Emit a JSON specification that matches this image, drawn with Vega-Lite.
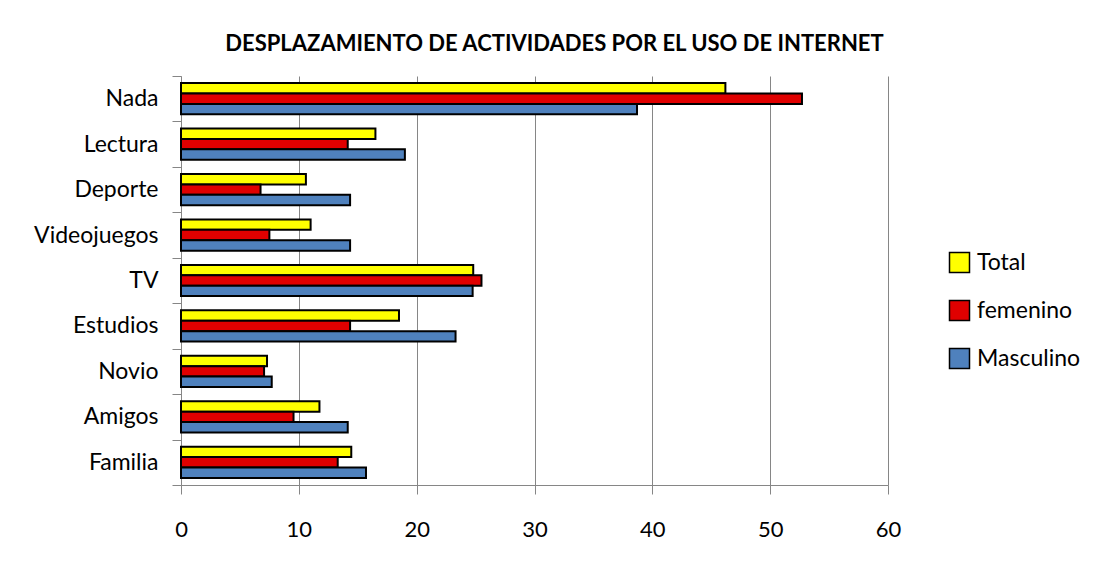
{
  "$schema": "https://vega.github.io/schema/vega-lite/v6.json",
  "autosize": "none",
  "width": 707,
  "height": 409,
  "padding": {"left": 181, "top": 76, "right": 205, "bottom": 82},
  "background": "white",
  "config": {
    "font": "Lato",
    "view": {"stroke": null}
  },
  "title": {
    "text": "DESPLAZAMIENTO DE ACTIVIDADES POR EL USO DE INTERNET",
    "font": "Lato",
    "fontSize": 22,
    "fontWeight": "bold",
    "color": "black",
    "anchor": "middle",
    "frame": "group",
    "dx": 20,
    "offset": 9
  },
  "data": {
    "values": [
      {"actividad": "Nada", "serie": "Total", "valor": 46.2},
      {"actividad": "Nada", "serie": "femenino", "valor": 52.7},
      {"actividad": "Nada", "serie": "Masculino", "valor": 38.7},
      {"actividad": "Lectura", "serie": "Total", "valor": 16.5},
      {"actividad": "Lectura", "serie": "femenino", "valor": 14.15},
      {"actividad": "Lectura", "serie": "Masculino", "valor": 19.0},
      {"actividad": "Deporte", "serie": "Total", "valor": 10.6},
      {"actividad": "Deporte", "serie": "femenino", "valor": 6.75},
      {"actividad": "Deporte", "serie": "Masculino", "valor": 14.35},
      {"actividad": "Videojuegos", "serie": "Total", "valor": 11.0},
      {"actividad": "Videojuegos", "serie": "femenino", "valor": 7.5},
      {"actividad": "Videojuegos", "serie": "Masculino", "valor": 14.35},
      {"actividad": "TV", "serie": "Total", "valor": 24.8},
      {"actividad": "TV", "serie": "femenino", "valor": 25.5},
      {"actividad": "TV", "serie": "Masculino", "valor": 24.75},
      {"actividad": "Estudios", "serie": "Total", "valor": 18.5},
      {"actividad": "Estudios", "serie": "femenino", "valor": 14.35},
      {"actividad": "Estudios", "serie": "Masculino", "valor": 23.3},
      {"actividad": "Novio", "serie": "Total", "valor": 7.3},
      {"actividad": "Novio", "serie": "femenino", "valor": 7.05},
      {"actividad": "Novio", "serie": "Masculino", "valor": 7.7},
      {"actividad": "Amigos", "serie": "Total", "valor": 11.75},
      {"actividad": "Amigos", "serie": "femenino", "valor": 9.55},
      {"actividad": "Amigos", "serie": "Masculino", "valor": 14.15},
      {"actividad": "Familia", "serie": "Total", "valor": 14.45},
      {"actividad": "Familia", "serie": "femenino", "valor": 13.3},
      {"actividad": "Familia", "serie": "Masculino", "valor": 15.7}
    ]
  },
  "mark": {"type": "bar", "stroke": "black", "strokeWidth": 2},
  "encoding": {
    "y": {
      "field": "actividad",
      "type": "nominal",
      "sort": ["Nada", "Lectura", "Deporte", "Videojuegos", "TV", "Estudios", "Novio", "Amigos", "Familia"],
      "scale": {"paddingInner": 0, "paddingOuter": 0},
      "axis": {
        "title": null,
        "tickBand": "extent",
        "domainColor": "#868686",
        "tickColor": "#868686",
        "tickSize": 9,
        "labelFontSize": 23,
        "labelColor": "black",
        "labelPadding": 14,
        "grid": false
      }
    },
    "yOffset": {
      "field": "serie",
      "type": "nominal",
      "sort": ["Total", "femenino", "Masculino"],
      "scale": {"paddingInner": 0, "paddingOuter": 0.685}
    },
    "x": {
      "field": "valor",
      "type": "quantitative",
      "scale": {"domain": [0, 60], "nice": false},
      "axis": {
        "title": null,
        "values": [0, 10, 20, 30, 40, 50, 60],
        "grid": true,
        "gridColor": "#868686",
        "gridWidth": 1,
        "domainColor": "#868686",
        "tickColor": "#868686",
        "tickSize": 9,
        "labelFontSize": 22,
        "labelColor": "black",
        "labelPadding": 25,
        "labelFlush": false
      }
    },
    "color": {
      "field": "serie",
      "type": "nominal",
      "sort": ["Total", "femenino", "Masculino"],
      "scale": {"domain": ["Total", "femenino", "Masculino"], "range": ["#FFFF00", "#E00000", "#4F81BD"]},
      "legend": {
        "title": null,
        "orient": "none",
        "legendX": 767,
        "legendY": 175,
        "symbolType": "square",
        "symbolSize": 400,
        "symbolStrokeColor": "black",
        "symbolStrokeWidth": 1.5,
        "labelFontSize": 23,
        "labelColor": "black",
        "labelOffset": 6,
        "rowPadding": 21
      }
    }
  }
}
